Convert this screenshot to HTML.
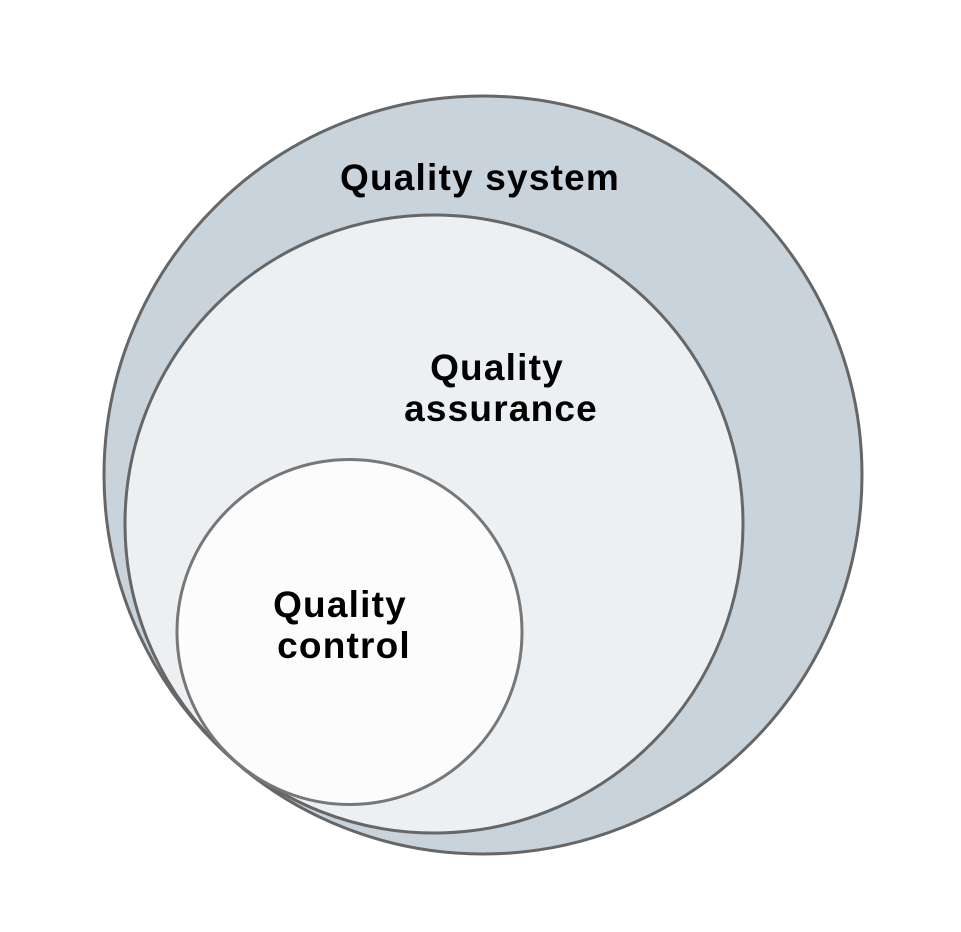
<!DOCTYPE html>
<html><head><meta charset="utf-8"><style>
html,body{margin:0;padding:0;background:#fff;}
svg{display:block;}
text{font-family:"Liberation Sans",sans-serif;font-weight:bold;font-size:37px;letter-spacing:1.2px;fill:#000;}
</style></head><body>
<svg width="961" height="932" viewBox="0 0 961 932" xmlns="http://www.w3.org/2000/svg">
<circle cx="483" cy="475" r="379" fill="#c9d3db" stroke="#666" stroke-width="3"/>
<circle cx="434" cy="524" r="309" fill="#edf0f3" stroke="#666" stroke-width="3"/>
<circle cx="349.5" cy="632" r="172.5" fill="#fcfcfd" stroke="#777" stroke-width="3"/>
<text x="480" y="190" text-anchor="middle">Quality system</text>
<text x="497" y="380" text-anchor="middle">Quality</text>
<text x="501" y="421" text-anchor="middle">assurance</text>
<text x="340" y="617" text-anchor="middle">Quality</text>
<text x="344" y="658" text-anchor="middle">control</text>
</svg>
</body></html>
